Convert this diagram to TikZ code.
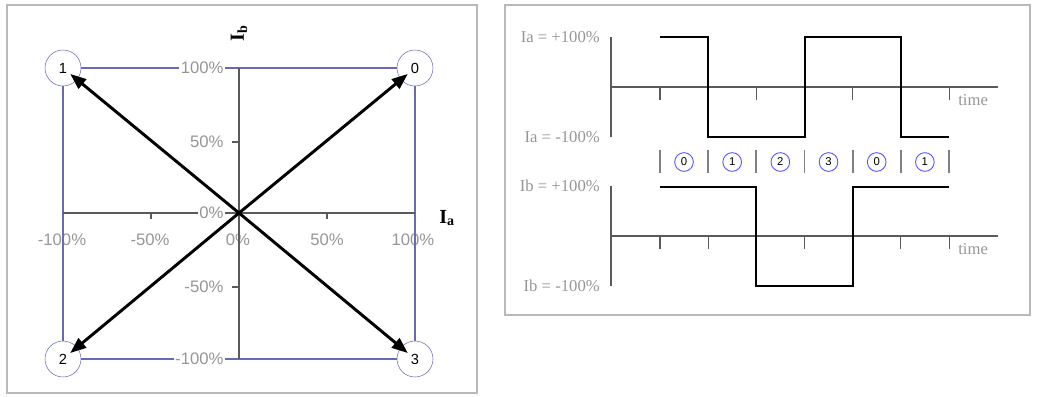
\documentclass[tikz,border=0pt]{standalone}
\usepackage{fontspec}
\setmainfont{Liberation Serif}
\newfontfamily\arialfont{Liberation Sans}
\usetikzlibrary{positioning,arrows.meta}
\definecolor{rectblue}{RGB}{105,105,180}
\definecolor{axgray}{RGB}{90,90,90}
\definecolor{lblgray}{RGB}{150,150,150}
\tikzset{
  frame/.style={draw=gray!55, line width=0.9pt},
  ax/.style={draw=axgray, line width=0.8pt},
  edge/.style={draw=rectblue, line width=0.8pt},
  pct/.style={font=\arialfont\fontsize{12.5}{12.5}\selectfont, text=lblgray, inner sep=1pt},
  corner/.style={circle, draw=rectblue, fill=white, minimum size=27pt, inner sep=0pt, font=\arialfont\fontsize{11}{11}\selectfont},
  vec/.style={-{Triangle[length=12pt,width=9pt]}, line width=2.2pt, shorten >=7pt},
  wave/.style={draw=black, line width=2.2pt},
  lvl/.style={font=\fontsize{12.5}{12.5}\selectfont, text=lblgray, anchor=east, inner sep=0pt},
  state/.style={circle, draw=blue!65, line width=0.7pt, minimum size=14pt, inner sep=0pt, font=\arialfont\fontsize{8.5}{8.5}\selectfont},
  axname/.style={font=\fontsize{15}{15}\selectfont\bfseries},
}

\begin{document}
\begin{tikzpicture}[x=0.75pt, y=-0.75pt]
\useasboundingbox (0,0) rectangle (1037,396);
% left panel: current vector plane
\draw[frame] (7,5) rectangle (477,393);
\foreach \x/\t in {62/-100\%, 150/-50\%, 238/0\%, 327/50\%, 413/100\%}
  \node[pct] (xl\x) at (\x,240) {\t};
\coordinate (O) at (239,213);
\draw[edge] (63,68) rectangle (415,359);
\draw[ax] (63,213) -- (415,213) (239,68) -- (239,359);
\foreach \y in {142,287} \draw[ax] (232,\y) -- (239,\y);
\foreach \x in {151,327} \draw[ax] (\x,213) -- (\x,219);
\foreach \y/\t in {68/100\%, 142/50\%, 213/0\%, 287/-50\%, 359/-100\%}
  \node[pct, fill=white, anchor=east] (yl\y) at (225,\y) {\t};
\node[corner] (s0) at (415,68) {0};
\node[corner] (s1) at (63,68) {1};
\node[corner] (s2) at (63,359) {2};
\node[corner] (s3) at (415,359) {3};
\foreach \s in {s0,s1,s2,s3} \draw[vec] (O) -- (\s.center);
\node[axname, rotate=90] (Ib) at (239,33) {I\textsubscript{b}};
\node[axname] (Ia) at (447,218) {I\textsubscript{a}};
% right panel: phase currents over time
\draw[frame] (505,5) rectangle (1030,315);
\foreach \yo/\n in {87/a, 236/b} {
  \draw[ax, line width=1.3pt] (611,\yo-50) -- (611,\yo+50);
  \draw[ax] (611,\yo) -- (998,\yo);
  \foreach \k in {0,...,6} \draw[ax] (660+48.17*\k,\yo) -- (660+48.17*\k,\yo+13);
  \node[lvl] (i\n hi) at (600,\yo-50) {I\n{} = +100\%};
  \node[lvl] (i\n lo) at (600,\yo+50) {I\n{} = -100\%};
  \node[lvl, anchor=west] (t\n) at (958,\yo+13) {time};
}
\draw[wave] (660,37) -| (708,137) -| (805,37) -| (901,137) -- (949,137);
\draw[wave] (660,187) -| (756,286) -| (853,187) -- (949,187);
\foreach \k in {0,...,6} \draw[ax, draw=gray, line width=1.3pt] (660+48.17*\k,150) -- (660+48.17*\k,173);
\foreach \n [count=\k from 0] in {0,1,2,3,0,1}
  \node[state] (q\k) at (684+48.17*\k,162) {\n};
\end{tikzpicture}
\end{document}
